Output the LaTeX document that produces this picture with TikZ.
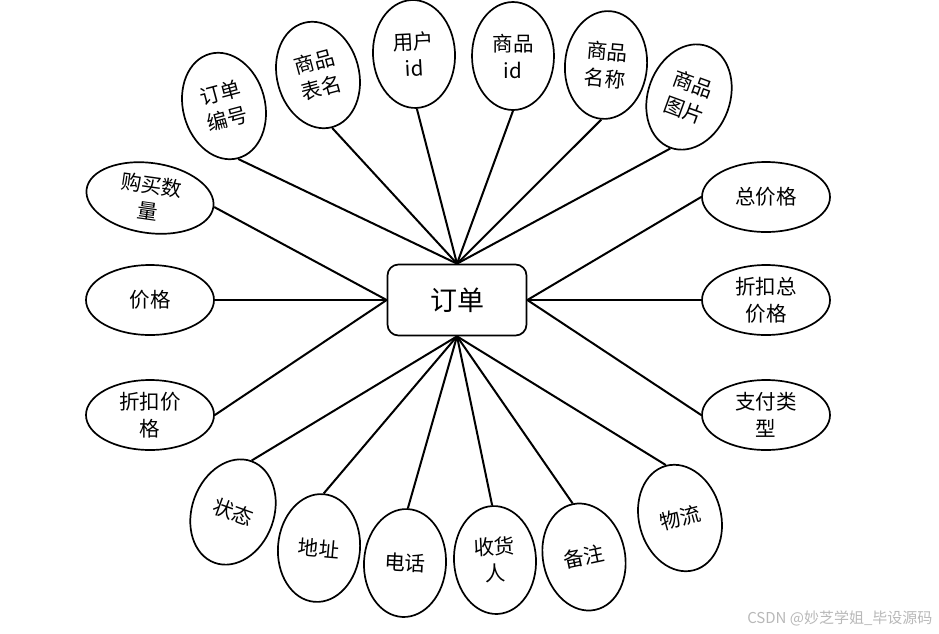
\documentclass[tikz,border=0pt]{standalone}
\usepackage{fontspec}
\newfontfamily\cjk{Noto Sans CJK SC}
\usetikzlibrary{shapes.geometric}

\begin{document}
\begin{tikzpicture}[
    x=1pt, y=-1pt,
    font=\cjk\fontsize{20.5}{27}\selectfont,
    order/.style={
        rectangle, rounded corners=11pt,
        draw=black, line width=1.7pt, fill=white,
        minimum width=139pt, minimum height=71pt,
        font=\cjk\fontsize{27}{32}\selectfont
    },
    attrv/.style={
        ellipse, draw=black, line width=1.7pt, fill=white,
        minimum width=82pt, minimum height=108pt,
        inner sep=0pt, align=center
    },
    attrh/.style={
        ellipse, draw=black, line width=1.7pt, fill=white,
        minimum width=128pt, minimum height=70pt,
        inner sep=0pt, align=center
    },
    link/.style={line width=2pt, black}
]
\useasboundingbox (0,0) rectangle (939,633);

\node (order) [order] at (457,300) {订单};

% top
\node (ddbh) [attrv, rotate=15]  at (224,106) {订单\\编号};
\node (spbm) [attrv, rotate=15]  at (318,75)  {商品\\表名};
\node (yhid) [attrv, rotate=3]   at (414,54)  {用户\\id};
\node (spid) [attrv]             at (513,56)  {商品\\id};
\node (spmc) [attrv, rotate=-5]  at (606,65)  {商品\\名称};
\node (sptp) [attrv, rotate=-20] at (689,97)  {商品\\图片};

% left
\node (gmsl) [attrh, rotate=-8] at (150,198) {购买数\\量};
\node (jg)   [attrh]            at (150,300) {价格};
\node (zkjg) [attrh]            at (150,415) {折扣价\\格};

% right
\node (zjg)   [attrh] at (766,197) {总价格};
\node (zkzjg) [attrh] at (766,300) {折扣总\\价格};
\node (zflx)  [attrh] at (766,415) {支付类\\型};

% bottom
\node (zt)  [attrv, rotate=-20] at (233,512) {状态};
\node (dz)  [attrv, rotate=-5]  at (319,548) {地址};
\node (dh)  [attrv, rotate=-3]  at (405,563) {电话};
\node (shr) [attrv, rotate=3]   at (495,560) {收货\\人};
\node (bz)  [attrv, rotate=12]  at (584,557) {备注};
\node (wl)  [attrv, rotate=15]  at (680,518) {物流};

\draw[link] (ddbh.south) -- (order.north);
\draw[link] (spbm.south) -- (order.north);
\draw[link] (yhid.south) -- (order.north);
\draw[link] (spid.south) -- (order.north);
\draw[link] (spmc.south) -- (order.north);
\draw[link] (sptp.south) -- (order.north);

\draw[link] (gmsl.east) -- (order.west);
\draw[link] (jg.east)   -- (order.west);
\draw[link] (zkjg.east) -- (order.west);

\draw[link] (zjg.west)   -- (order.east);
\draw[link] (zkzjg.west) -- (order.east);
\draw[link] (zflx.west)  -- (order.east);

\draw[link] (zt.north)  -- (order.south);
\draw[link] (dz.north)  -- (order.south);
\draw[link] (dh.north)  -- (order.south);
\draw[link] (shr.north) -- (order.south);
\draw[link] (bz.north)  -- (order.south);
\draw[link] (wl.north)  -- (order.south);

\node (mark) [anchor=east, text=black!28, font=\cjk\fontsize{15}{18}\selectfont]
    at (936,618) {CSDN @妙芝学姐\_毕设源码};

\end{tikzpicture}
\end{document}
